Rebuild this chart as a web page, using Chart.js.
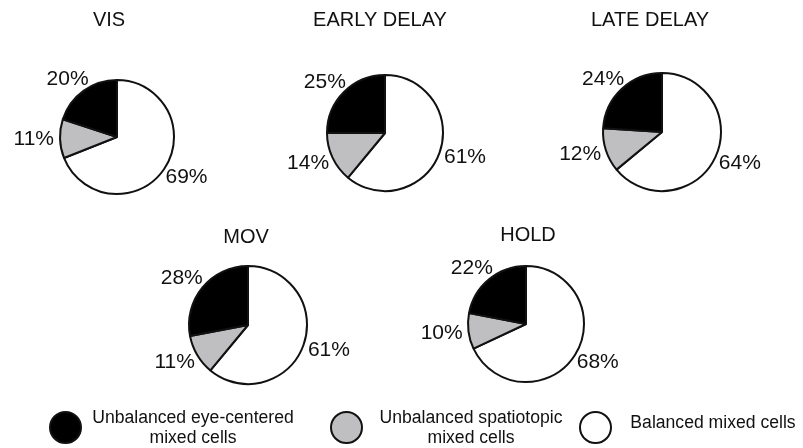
<!DOCTYPE html>
<html>
<head>
<meta charset="utf-8">
<script src="https://cdn.jsdelivr.net/npm/chart.js@4/dist/chart.umd.min.js"></script>
<style>
  html, body { margin: 0; padding: 0; background: #fff; }
  body { width: 803px; height: 448px; position: relative; overflow: hidden;
         font-family: "Liberation Sans", Arial, Helvetica, sans-serif; color: #111; }
  canvas.pie { position: absolute; }
  .dot { position: absolute; width: 29px; height: 29px; border-radius: 50%;
         border: 2px solid #111; }
  .ltxt { position: absolute; font-size: 17.6px; line-height: 20px; text-align: center;
          white-space: nowrap; }
</style>
</head>
<body>
<script>
// data
const panelTitles = ["VIS", "EARLY DELAY", "LATE DELAY", "MOV", "HOLD"];
const sliceNames = [
  "Balanced mixed cells",
  "Unbalanced spatiotopic mixed cells",
  "Unbalanced eye-centered mixed cells",
];
const balanced = [69, 61, 64, 61, 68];
const spatiotopic = [11, 14, 12, 11, 10];
const eyeCentered = [20, 25, 24, 28, 22];
const sliceColors = ["#ffffff", "#bfbfc1", "#000000"];

// where each small pie sits on the page (centre, radius, title position)
const panels = [
  { cx: 117, cy: 137, r: 57, tx: 109, ty: 20 },
  { cx: 385, cy: 133, r: 58, tx: 380, ty: 20 },
  { cx: 662, cy: 132, r: 59, tx: 650, ty: 20 },
  { cx: 248, cy: 325, r: 59, tx: 246, ty: 237 },
  { cx: 526, cy: 324, r: 58, tx: 528, ty: 235 },
];

const BOX = 300;

// draws the % labels outside each slice and the panel title
const outLabels = {
  id: "outLabels",
  afterDatasetsDraw(chart, args, opts) {
    const ctx = chart.ctx;
    const meta = chart.getDatasetMeta(0);
    const values = chart.data.datasets[0].data;
    ctx.save();
    ctx.fillStyle = "#111";
    ctx.textAlign = "center";
    ctx.textBaseline = "middle";
    ctx.font = "21px 'Liberation Sans', Arial, sans-serif";
    meta.data.forEach((arc, i) => {
      const p = arc.getProps(["x", "y", "startAngle", "endAngle", "outerRadius"], true);
      const mid = (p.startAngle + p.endAngle) / 2;
      const dx = Math.cos(mid);
      const dy = Math.sin(mid);
      const txt = values[i] + "%";
      const w = ctx.measureText(txt).width;
      const gap = p.outerRadius + 6;
      const x = p.x + dx * gap + dx * w / 2;
      const y = p.y + dy * gap + dy * 8;
      ctx.fillText(txt, x, y);
    });
    ctx.font = "20px 'Liberation Sans', Arial, sans-serif";
    ctx.fillText(opts.title, opts.tx, opts.ty);
    ctx.restore();
  },
};

panelTitles.forEach((title, k) => {
  const pnl = panels[k];
  const cv = document.createElement("canvas");
  cv.className = "pie";
  cv.width = BOX;
  cv.height = BOX;
  cv.style.left = pnl.cx - BOX / 2 + "px";
  cv.style.top = pnl.cy - BOX / 2 + "px";
  document.body.appendChild(cv);

  new Chart(cv, {
    type: "pie",
    data: {
      labels: sliceNames,
      datasets: [
        {
          data: [balanced[k], spatiotopic[k], eyeCentered[k]],
          backgroundColor: sliceColors,
          borderColor: "#111",
          borderWidth: 2,
        },
      ],
    },
    options: {
      responsive: false,
      animation: false,
      events: [],
      radius: pnl.r,
      layout: { padding: 0 },
      plugins: {
        legend: { display: false },
        tooltip: { enabled: false },
        outLabels: {
          title: title,
          tx: pnl.tx - pnl.cx + BOX / 2,
          ty: pnl.ty - pnl.cy + BOX / 2,
        },
      },
    },
    plugins: [outLabels],
  });
});

// legend along the bottom
const legendItems = [
  { color: sliceColors[2], dot: [49, 411], text: ["Unbalanced eye-centered", "mixed cells"], tx: 193, ty: 407 },
  { color: sliceColors[1], dot: [330, 411], text: ["Unbalanced spatiotopic", "mixed cells"], tx: 471, ty: 407 },
  { color: sliceColors[0], dot: [579, 411], text: ["Balanced mixed cells"], tx: 713, ty: 412 },
];
legendItems.forEach((it) => {
  const d = document.createElement("div");
  d.className = "dot";
  d.style.background = it.color;
  d.style.left = it.dot[0] + "px";
  d.style.top = it.dot[1] + "px";
  document.body.appendChild(d);

  const t = document.createElement("div");
  t.className = "ltxt";
  t.innerHTML = it.text.join("<br>");
  t.style.left = it.tx - 120 + "px";
  t.style.width = "240px";
  t.style.top = it.ty + "px";
  document.body.appendChild(t);
});
</script>
</body>
</html>
